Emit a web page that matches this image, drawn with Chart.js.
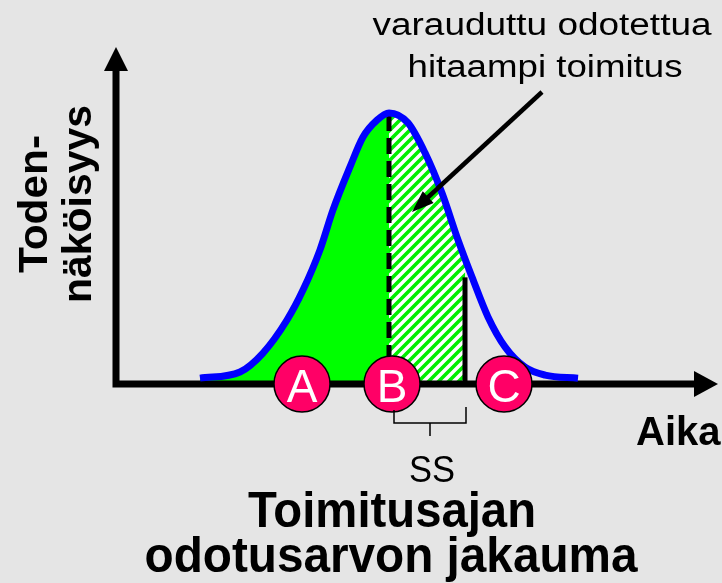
<!DOCTYPE html>
<html>
<head>
<meta charset="utf-8">
<script src="https://cdn.jsdelivr.net/npm/chart.js@4.4.1/dist/chart.umd.min.js"></script>
<style>
    html, body { margin: 0; padding: 0; background: #e5e5e5; }
    #wrap { width: 722px; height: 583px; position: relative; }
</style>
</head>
<body>
<div id="wrap"><canvas id="leadTimeChart"></canvas></div>
<script>
// delivery time distribution (time units, probability)
const curveTime = [4.2, 6.2, 7.35, 8.55, 9.35, 10.2, 10.85, 11.7, 12.35, 13.05, 13.65, 14.6, 15.45, 16.3, 17.1, 17.8, 18.6, 19.45, 20.45, 21.45, 23.1];
const curveProb = [0.017, 0.035, 0.09, 0.186, 0.273, 0.39, 0.506, 0.631, 0.718, 0.767, 0.788, 0.759, 0.672, 0.555, 0.419, 0.311, 0.195, 0.108, 0.049, 0.026, 0.017];

const expectedTime = 13.65;     // B, mean of the distribution
const peakProb = 0.78;
const safetyEnd = 17.45;        // end of the safety stock (SS) zone
const safetyEndProb = 0.366;
const safetyLineTop = 0.31;
const ssBracket = [13.9, 17.5];

const markerLabels = ['A', 'B', 'C'];
const markerTime = [9.3, 13.8, 19.4];

const annotationLines = ['varauduttu odotettua', 'hitaampi toimitus'];
const titleLines = ['Toimitusajan', 'odotusarvon jakauma'];
const yTitleLines = ['Toden-', 'näköisyys'];
const xTitle = 'Aika';
const ssLabel = 'SS';

const FONT = '"Liberation Sans", Arial, sans-serif';

const pts = (xs, ys) => xs.map((x, i) => ({ x, y: ys[i] }));

const greenPts = pts(curveTime, curveProb).filter(p => p.x <= expectedTime);
const hatchPts = pts(curveTime, curveProb).filter(p => p.x >= expectedTime && p.x < safetyEnd)
    .concat([{ x: safetyEnd, y: safetyEndProb }]);

function makeHatch() {
    const c = document.createElement('canvas');
    c.width = 10; c.height = 10;
    const g = c.getContext('2d');
    g.fillStyle = '#ffffff';
    g.fillRect(0, 0, 10, 10);
    g.strokeStyle = '#00ee00';
    g.lineWidth = 3.6;
    g.beginPath();
    g.moveTo(-1, 11); g.lineTo(11, -1);
    g.moveTo(-3, 3); g.lineTo(3, -3);
    g.moveTo(7, 13); g.lineTo(13, 7);
    g.stroke();
    return document.getElementById('leadTimeChart').getContext('2d').createPattern(c, 'repeat');
}

function fitText(ctx, text, x, y, font, width, align) {
    ctx.save();
    ctx.font = font;
    const w = ctx.measureText(text).width;
    ctx.translate(x, y);
    ctx.scale(width ? width / w : 1, 1);
    ctx.textAlign = align || 'center';
    ctx.textBaseline = 'alphabetic';
    ctx.fillText(text, 0, 0);
    ctx.restore();
}

const axesPlugin = {
    id: 'axes',
    afterDatasetDraw(chart, args) {
        if (args.index !== 1) return;
        const { ctx, chartArea } = chart;
        const x0 = chartArea.left;
        const y0 = chart.scales.y.getPixelForValue(0);
        const topTip = chartArea.top + 7;
        const rightTip = chartArea.right - 2;
        ctx.save();
        ctx.strokeStyle = '#000';
        ctx.fillStyle = '#000';
        ctx.lineWidth = 7;
        ctx.lineJoin = 'miter';
        ctx.beginPath();
        ctx.moveTo(x0, topTip + 20);
        ctx.lineTo(x0, y0);
        ctx.lineTo(rightTip - 20, y0);
        ctx.stroke();
        ctx.beginPath();
        ctx.moveTo(x0, topTip);
        ctx.lineTo(x0 - 12, topTip + 24);
        ctx.lineTo(x0 + 12, topTip + 24);
        ctx.closePath();
        ctx.fill();
        ctx.beginPath();
        ctx.moveTo(rightTip, y0);
        ctx.lineTo(rightTip - 24, y0 - 13);
        ctx.lineTo(rightTip - 24, y0 + 13);
        ctx.closePath();
        ctx.fill();
        ctx.restore();
    }
};

const labelsPlugin = {
    id: 'labels',
    afterDatasetsDraw(chart) {
        const { ctx } = chart;
        const xs = chart.scales.x;

        // letters in the markers
        const meta = chart.getDatasetMeta(5);
        ctx.save();
        ctx.fillStyle = '#ffffff';
        meta.data.forEach((el, i) => {
            fitText(ctx, markerLabels[i], el.x, el.y + 18, '46px ' + FONT, 0, 'center');
        });
        ctx.restore();

        // SS bracket
        const bl = xs.getPixelForValue(ssBracket[0]);
        const br = xs.getPixelForValue(ssBracket[1]);
        ctx.save();
        ctx.strokeStyle = '#000';
        ctx.lineWidth = 1.5;
        ctx.beginPath();
        ctx.moveTo(bl, 410); ctx.lineTo(bl, 423); ctx.lineTo(br, 423); ctx.lineTo(br, 407);
        ctx.moveTo((bl + br) / 2, 423); ctx.lineTo((bl + br) / 2, 436);
        ctx.stroke();
        ctx.restore();

        ctx.save();
        ctx.fillStyle = '#000';
        fitText(ctx, ssLabel, 432, 482, '37px ' + FONT, 46, 'center');
        fitText(ctx, annotationLines[0], 542, 35, '31px ' + FONT, 339, 'center');
        fitText(ctx, annotationLines[1], 545, 77, '31px ' + FONT, 275, 'center');
        fitText(ctx, titleLines[0], 392, 527, 'bold 50px ' + FONT, 288, 'center');
        fitText(ctx, titleLines[1], 391, 572, 'bold 50px ' + FONT, 493, 'center');
        fitText(ctx, xTitle, 636, 445, 'bold 40px ' + FONT, 0, 'left');

        // rotated y title
        ctx.save();
        ctx.translate(47, 204);
        ctx.rotate(-Math.PI / 2);
        fitText(ctx, yTitleLines[0], 0, 0, 'bold 41px ' + FONT, 138, 'center');
        ctx.restore();
        ctx.save();
        ctx.translate(91, 204);
        ctx.rotate(-Math.PI / 2);
        fitText(ctx, yTitleLines[1], 0, 0, 'bold 41px ' + FONT, 198, 'center');
        ctx.restore();

        // annotation arrow
        const ax0 = 542, ay0 = 92, ax1 = 412, ay1 = 212;
        const ang = Math.atan2(ay1 - ay0, ax1 - ax0);
        ctx.strokeStyle = '#000';
        ctx.lineWidth = 4.5;
        ctx.beginPath();
        ctx.moveTo(ax0, ay0);
        ctx.lineTo(ax1 - 14 * Math.cos(ang), ay1 - 14 * Math.sin(ang));
        ctx.stroke();
        ctx.beginPath();
        ctx.moveTo(ax1, ay1);
        ctx.lineTo(ax1 - 22 * Math.cos(ang) + 8 * Math.sin(ang), ay1 - 22 * Math.sin(ang) - 8 * Math.cos(ang));
        ctx.lineTo(ax1 - 22 * Math.cos(ang) - 8 * Math.sin(ang), ay1 - 22 * Math.sin(ang) + 8 * Math.cos(ang));
        ctx.closePath();
        ctx.fill();
        ctx.restore();
    }
};

const ctx = document.getElementById('leadTimeChart').getContext('2d');
new Chart(ctx, {
    type: 'line',
    data: {
        datasets: [
            {
                data: greenPts,
                fill: 'origin',
                backgroundColor: '#00ff00',
                borderWidth: 0,
                pointRadius: 0,
                cubicInterpolationMode: 'monotone',
                order: 6
            },
            {
                data: hatchPts,
                fill: 'origin',
                backgroundColor: makeHatch(),
                borderWidth: 0,
                pointRadius: 0,
                cubicInterpolationMode: 'monotone',
                order: 5
            },
            {
                data: [{ x: safetyEnd, y: 0 }, { x: safetyEnd, y: safetyLineTop }],
                borderColor: '#000',
                borderWidth: 5,
                pointRadius: 0,
                order: 4
            },
            {
                data: [{ x: expectedTime, y: 0 }, { x: expectedTime, y: peakProb }],
                borderColor: '#000',
                borderWidth: 5,
                borderDash: [16, 7],
                pointRadius: 0,
                order: 3
            },
            {
                data: pts(curveTime, curveProb),
                borderColor: '#0000ff',
                borderWidth: 7,
                pointRadius: 0,
                fill: false,
                cubicInterpolationMode: 'monotone',
                borderJoinStyle: 'round',
                order: 2
            },
            {
                type: 'scatter',
                data: markerTime.map(x => ({ x, y: 0 })),
                pointRadius: 28,
                pointBackgroundColor: '#ff0066',
                pointBorderColor: '#000',
                pointBorderWidth: 1.5,
                showLine: false,
                clip: false,
                order: 1
            }
        ]
    },
    options: {
        responsive: true,
        maintainAspectRatio: false,
        animation: false,
        events: [],
        layout: { autoPadding: false, padding: { left: 116, right: 2, top: 40, bottom: 199 } },
        plugins: {
            legend: { display: false },
            tooltip: { enabled: false }
        },
        scales: {
            x: { type: 'linear', min: 0, max: 30.2, display: false },
            y: { min: 0, max: 1, display: false }
        }
    },
    plugins: [axesPlugin, labelsPlugin]
});
</script>
</body>
</html>
